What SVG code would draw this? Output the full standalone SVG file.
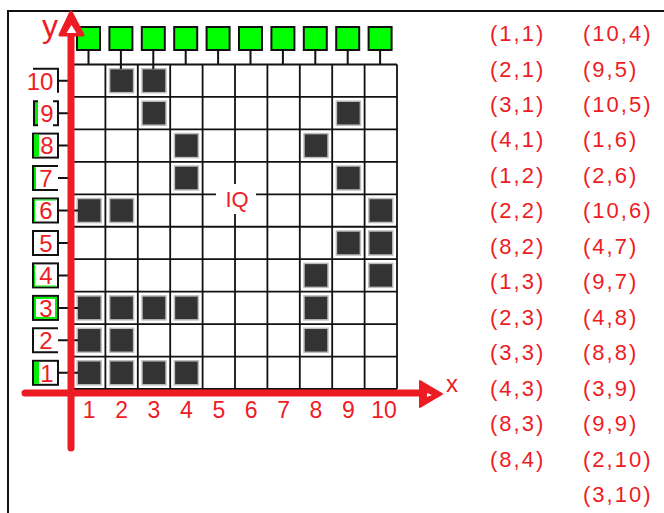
<svg xmlns="http://www.w3.org/2000/svg" width="664" height="513" viewBox="0 0 664 513">
<style>
.grid{stroke:#111;stroke-width:1.8;fill:none}
.dark{fill:#333;stroke:#bdbdbd;stroke-width:1.5}
.gsq{fill:#00ff00;stroke:#111;stroke-width:2}
.stem{stroke:#111;stroke-width:2}
.box{fill:#fff;stroke:#111;stroke-width:2}
.open{fill:none;stroke:#111;stroke-width:2}
.gs{fill:#00ee00}
.t{font-family:"Liberation Sans",Arial,sans-serif;fill:#ee1c25}
.lbl{font-size:24px;text-anchor:middle}
.ax{font-size:23px;text-anchor:middle}
.lst{font-size:22px;letter-spacing:2px}
.axis{stroke:#ed1c24;stroke-width:7;stroke-linecap:round;fill:none}
</style>
<rect width="664" height="513" fill="#fff"/>
<g id="frame" stroke="#111" stroke-width="2" fill="none">
<path d="M8 513V11H664"/>
</g>
<g id="grid" class="grid">
<path d="M73 64.5V389M105.4 64.5V389M137.8 64.5V389M170.2 64.5V389M202.6 64.5V389M235 64.5V389M267.4 64.5V389M299.8 64.5V389M332.2 64.5V389M364.6 64.5V389M397 64.5V389"/>
<path d="M73 64.5H397M73 96.95H397M73 129.4H397M73 161.85H397M73 194.3H397M73 226.75H397M73 259.2H397M73 291.65H397M73 324.1H397M73 356.55H397M73 389H397"/>
</g>
<g id="cells">
<rect class="dark" x="109.6" y="68.7" width="24" height="24"/>
<rect class="dark" x="142" y="68.7" width="24" height="24"/>
<rect class="dark" x="142" y="101.2" width="24" height="24"/>
<rect class="dark" x="336.4" y="101.2" width="24" height="24"/>
<rect class="dark" x="174.4" y="133.6" width="24" height="24"/>
<rect class="dark" x="304" y="133.6" width="24" height="24"/>
<rect class="dark" x="174.4" y="166" width="24" height="24"/>
<rect class="dark" x="336.4" y="166" width="24" height="24"/>
<rect class="dark" x="77.2" y="198.5" width="24" height="24"/>
<rect class="dark" x="109.6" y="198.5" width="24" height="24"/>
<rect class="dark" x="368.8" y="198.5" width="24" height="24"/>
<rect class="dark" x="336.4" y="231" width="24" height="24"/>
<rect class="dark" x="368.8" y="231" width="24" height="24"/>
<rect class="dark" x="304" y="263.4" width="24" height="24"/>
<rect class="dark" x="368.8" y="263.4" width="24" height="24"/>
<rect class="dark" x="77.2" y="295.9" width="24" height="24"/>
<rect class="dark" x="109.6" y="295.9" width="24" height="24"/>
<rect class="dark" x="142" y="295.9" width="24" height="24"/>
<rect class="dark" x="174.4" y="295.9" width="24" height="24"/>
<rect class="dark" x="304" y="295.9" width="24" height="24"/>
<rect class="dark" x="77.2" y="328.3" width="24" height="24"/>
<rect class="dark" x="109.6" y="328.3" width="24" height="24"/>
<rect class="dark" x="304" y="328.3" width="24" height="24"/>
<rect class="dark" x="77.2" y="360.8" width="24" height="24"/>
<rect class="dark" x="109.6" y="360.8" width="24" height="24"/>
<rect class="dark" x="142" y="360.8" width="24" height="24"/>
<rect class="dark" x="174.4" y="360.8" width="24" height="24"/>
</g>
<g id="connectors" class="stem">
<path d="M88.5 50V64.5M120.9 50V69M153.3 50V69M185.7 50V64.5M218.1 50V64.5M250.5 50V64.5M282.9 50V64.5M315.3 50V64.5M347.7 50V64.5M380.1 50V64.5"/>
<path d="M58 80.7H68M58 113.2H68M58 145.6H68M58 178.1H68M58 210.5H78M58 243H68M58 275.4H68M58 307.9H78M58 340.3H78M58 372.8H78"/>
</g>
<g id="top-nodes">
<rect class="gsq" x="77" y="27" width="23" height="23"/>
<rect class="gsq" x="109.4" y="27" width="23" height="23"/>
<rect class="gsq" x="141.8" y="27" width="23" height="23"/>
<rect class="gsq" x="174.2" y="27" width="23" height="23"/>
<rect class="gsq" x="206.6" y="27" width="23" height="23"/>
<rect class="gsq" x="239" y="27" width="23" height="23"/>
<rect class="gsq" x="271.4" y="27" width="23" height="23"/>
<rect class="gsq" x="303.8" y="27" width="23" height="23"/>
<rect class="gsq" x="336.2" y="27" width="23" height="23"/>
<rect class="gsq" x="368.6" y="27" width="23" height="23"/>
</g>
<g id="row-labels">
<g id="y10"><path class="open" d="M33 68.7H58V92.7"/><text class="t lbl" x="40" y="89.5">10</text></g>
<g id="y9"><rect class="gs" x="34" y="102" width="4" height="23"/><path class="open" d="M38 101.2H34V125.2H38M53 101.2H58V125.2H53"/><text class="t lbl" x="47" y="122">9</text></g>
<g id="y8"><rect class="box" x="33" y="133.6" width="25" height="24"/><rect class="gs" x="34" y="134.6" width="5" height="22"/><text class="t lbl" x="47" y="154.4">8</text></g>
<g id="y7"><rect class="gs" x="34" y="167" width="2" height="22"/><path class="open" d="M58 166.1H33V190.1H58"/><text class="t lbl" x="46" y="187">7</text></g>
<g id="y6"><rect class="box" x="33" y="198.5" width="25" height="24"/><path d="M34.5 222V200H56" stroke="#00ee00" stroke-width="1.2" fill="none"/><text class="t lbl" x="46" y="219.3">6</text></g>
<g id="y5"><rect class="box" x="33" y="231" width="25" height="24"/><text class="t lbl" x="46" y="251.8">5</text></g>
<g id="y4"><rect class="box" x="33" y="263.4" width="25" height="24"/><path d="M34.5 265V286H56" stroke="#00ee00" stroke-width="1.2" fill="none"/><text class="t lbl" x="46" y="284.2">4</text></g>
<g id="y3"><rect class="box" x="33" y="295.9" width="25" height="24"/><rect x="35" y="297.9" width="21" height="20" fill="none" stroke="#00ee00" stroke-width="2"/><text class="t lbl" x="46" y="316.7">3</text></g>
<g id="y2"><path class="open" d="M58 328.3H33V352.3H58"/><text class="t lbl" x="46" y="349.1">2</text></g>
<g id="y1"><rect class="box" x="33" y="360.8" width="25" height="24"/><rect class="gs" x="34" y="361.8" width="5" height="22"/><text class="t lbl" x="47" y="381.6">1</text></g>
</g>
<g id="axes">
<path class="axis" d="M71 28V448"/>
<path class="axis" d="M25 393H425"/>
<polygon points="71,12 60,35 83,35" fill="#ed1c24" stroke="#ed1c24" stroke-width="3" stroke-linejoin="round"/>
<polygon points="71.5,25 66.5,33 76.5,33" fill="#fff"/>
<polygon points="442,394 420,381 420,407" fill="#ed1c24" stroke="#ed1c24" stroke-width="2" stroke-linejoin="round"/>
<polygon points="427,393 432,395 427,397" fill="#fff"/>
<text class="t" x="50" y="37" font-size="32" text-anchor="middle">y</text>
<text class="t" x="452" y="392" font-size="24" text-anchor="middle">x</text>
</g>
<g id="x-labels">
<text class="t ax" x="89.2" y="418">1</text>
<text class="t ax" x="121.6" y="418">2</text>
<text class="t ax" x="154" y="418">3</text>
<text class="t ax" x="186.4" y="418">4</text>
<text class="t ax" x="218.8" y="418">5</text>
<text class="t ax" x="251.2" y="418">6</text>
<text class="t ax" x="283.6" y="418">7</text>
<text class="t ax" x="316" y="418">8</text>
<text class="t ax" x="348.4" y="418">9</text>
<text class="t ax" x="384" y="418">10</text>
</g>
<g id="iq">
<rect x="216" y="184" width="40" height="30" fill="#fff"/>
<text class="t" x="237" y="207" font-size="22" text-anchor="middle">IQ</text>
</g>
<g id="list1" class="t lst">
<text x="490" y="41">(1,1)</text>
<text x="490" y="76.5">(2,1)</text>
<text x="490" y="112">(3,1)</text>
<text x="490" y="147.4">(4,1)</text>
<text x="490" y="182.8">(1,2)</text>
<text x="490" y="218.3">(2,2)</text>
<text x="490" y="253.8">(8,2)</text>
<text x="490" y="289.2">(1,3)</text>
<text x="490" y="324.7">(2,3)</text>
<text x="490" y="360.1">(3,3)</text>
<text x="490" y="395.6">(4,3)</text>
<text x="490" y="431">(8,3)</text>
<text x="490" y="466.5">(8,4)</text>
</g>
<g id="list2" class="t lst">
<text x="583" y="41">(10,4)</text>
<text x="583" y="76.5">(9,5)</text>
<text x="583" y="112">(10,5)</text>
<text x="583" y="147.4">(1,6)</text>
<text x="583" y="182.8">(2,6)</text>
<text x="583" y="218.3">(10,6)</text>
<text x="583" y="253.8">(4,7)</text>
<text x="583" y="289.2">(9,7)</text>
<text x="583" y="324.7">(4,8)</text>
<text x="583" y="360.1">(8,8)</text>
<text x="583" y="395.6">(3,9)</text>
<text x="583" y="431">(9,9)</text>
<text x="583" y="466.5">(2,10)</text>
<text x="583" y="502">(3,10)</text>
</g>
</svg>
